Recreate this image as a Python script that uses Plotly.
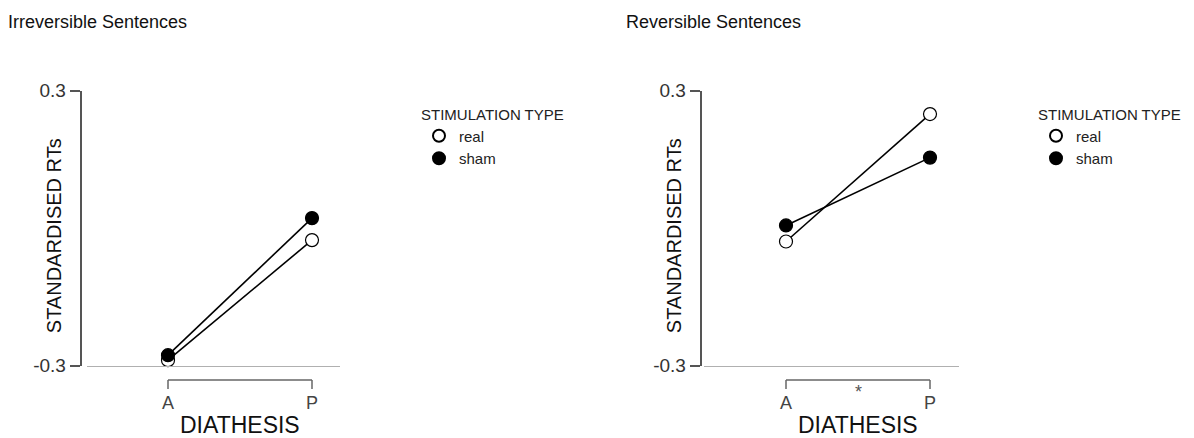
import plotly.graph_objects as go

# Condition means (standardised reaction times)
diathesis = ["A", "P"]
irrev_real = [-0.288, -0.026]
irrev_sham = [-0.277, 0.022]
rev_real = [-0.029, 0.249]
rev_sham = [0.006, 0.154]

y_ticks = [-0.3, 0.3]
y_ticktext = ["-0.3", "0.3"]

FONT = "Liberation Sans, Arial, sans-serif"
W, H = 1194, 438


def px_x(p):
    return p / W


def px_y(p):
    return 1 - p / H


fig = go.Figure()

panels = [
    dict(real=irrev_real, sham=irrev_sham, xa="x", ya="y", legend="legend"),
    dict(real=rev_real, sham=rev_sham, xa="x2", ya="y2", legend="legend2"),
]

for p in panels:
    xs = list(range(len(diathesis)))
    for name, vals, fill in [("real", p["real"], "white"), ("sham", p["sham"], "black")]:
        fig.add_trace(go.Scatter(
            x=xs, y=vals, mode="lines+markers", xaxis=p["xa"], yaxis=p["ya"],
            line=dict(color="black", width=1.6),
            marker=dict(size=13, color=fill, line=dict(color="black", width=1.2)),
            cliponaxis=False, showlegend=False, hoverinfo="skip",
        ))
    for name, fill in [("real", "white"), ("sham", "black")]:
        fig.add_trace(go.Scatter(
            x=[None], y=[None], mode="markers", name=name, xaxis=p["xa"], yaxis=p["ya"],
            marker=dict(size=12, color=fill, line=dict(color="black", width=1.2)),
            legend=p["legend"],
        ))

# plot geometry (pixel positions)
y_top, y_bot = 90.7, 365.7
left = dict(axis_x=80.5, line_x0=87, line_x1=340, a_x=168, p_x=312, ylab_x=54)
right = dict(axis_x=700.5, line_x0=704, line_x1=959, a_x=786, p_x=930, ylab_x=674)


def x_range(g):
    unit = g["p_x"] - g["a_x"]
    return [-(g["a_x"] - g["line_x0"]) / unit, 1 + (g["line_x1"] - g["p_x"]) / unit]


xaxis_common = dict(
    tickmode="array", tickvals=[0, 1], ticktext=diathesis,
    showline=True, linecolor="#b0b0b0", linewidth=1,
    ticks="outside", ticklen=21, tickcolor="rgba(0,0,0,0)",
    tickfont=dict(family=FONT, size=18, color="#444"),
    showgrid=False, zeroline=False, automargin=False,
)
yaxis_common = dict(
    range=[-0.3, 0.3], tickmode="array", tickvals=y_ticks, ticktext=y_ticktext,
    showline=True, linecolor="#555", linewidth=1.5,
    ticks="outside", ticklen=10, tickcolor="#555", tickwidth=1.5,
    tickfont=dict(family=FONT, size=19, color="#333"),
    showgrid=False, zeroline=False, anchor="free", automargin=False,
    domain=[px_y(y_bot), px_y(y_top)],
)

fig.update_layout(
    xaxis=dict(xaxis_common, domain=[px_x(left["line_x0"]), px_x(left["line_x1"])],
               range=x_range(left), anchor="y"),
    yaxis=dict(yaxis_common, position=px_x(left["axis_x"])),
    xaxis2=dict(xaxis_common, domain=[px_x(right["line_x0"]), px_x(right["line_x1"])],
                range=x_range(right), anchor="y2"),
    yaxis2=dict(yaxis_common, position=px_x(right["axis_x"])),
)

for xa, g, bracket_label in [("x", left, ""), ("x2", right, "*")]:
    # bracket below the x axis joining A and P
    for x0, y0, x1, y1 in [(0, 380, 1, 380), (0, 380, 0, 389), (1, 380, 1, 389)]:
        fig.add_shape(type="line", xref=xa, yref="paper",
                      x0=x0, x1=x1, y0=px_y(y0), y1=px_y(y1),
                      line=dict(color="#666", width=1.5))
    if bracket_label:
        fig.add_annotation(x=0.5, xref=xa, y=px_y(404), yref="paper", text=bracket_label,
                           showarrow=False, font=dict(family=FONT, size=18, color="#555"))
    # axis titles
    fig.add_annotation(x=0.5, xref=xa, y=px_y(425), yref="paper", text="DIATHESIS",
                       showarrow=False, xanchor="center", yanchor="middle",
                       font=dict(family=FONT, size=23, color="#111"))
    fig.add_annotation(x=px_x(g["ylab_x"]), xref="paper", y=px_y((y_top + y_bot) / 2 + 8),
                       yref="paper", text="STANDARDISED RTs", textangle=-90,
                       showarrow=False, xanchor="center", yanchor="middle",
                       font=dict(family=FONT, size=20, color="#111"))

legend_common = dict(
    font=dict(family=FONT, size=15, color="#222"),
    title=dict(text="STIMULATION TYPE", font=dict(family=FONT, size=15, color="#222")),
    bgcolor="rgba(0,0,0,0)", xanchor="left", yanchor="top",
    tracegroupgap=0, itemsizing="constant",
)

fig.update_layout(
    legend=dict(legend_common, x=px_x(419), y=px_y(100)),
    legend2=dict(legend_common, x=px_x(1036), y=px_y(100)),
)

for text, x in [("Irreversible Sentences", 6), ("Reversible Sentences", 624)]:
    fig.add_annotation(text=text, xref="paper", yref="paper", x=px_x(x), y=px_y(22),
                       xanchor="left", yanchor="middle", showarrow=False,
                       font=dict(family=FONT, size=18, color="#111"))

fig.update_layout(
    width=W, height=H, margin=dict(l=0, r=0, t=0, b=0),
    paper_bgcolor="white", plot_bgcolor="white",
)

fig.write_html("out.html")
